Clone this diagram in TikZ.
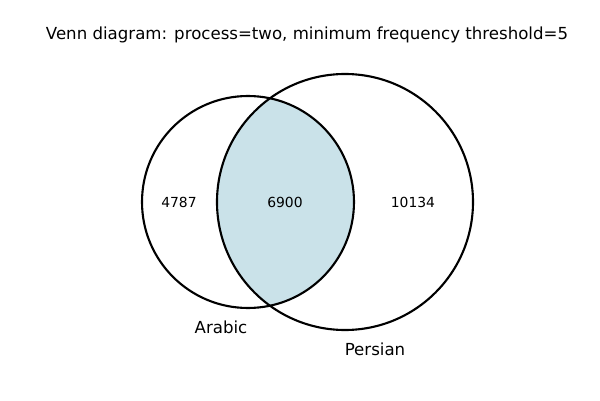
\documentclass[tikz,border=0pt]{standalone}
\usepackage{fontspec}
\setmainfont{DejaVu Sans}
\definecolor{overlapblue}{RGB}{202,226,233}
\newcommand{\arabiccircle}{(248,198) circle (106)}
\newcommand{\persiancircle}{(345,198) circle (128)}

\begin{document}
\begin{tikzpicture}[x=0.02cm, y=0.02cm,
    count/.style={font=\fontsize{7.9}{9}\selectfont},
    setname/.style={font=\fontsize{9.45}{11}\selectfont}]
    \useasboundingbox (0,0) rectangle (600,400);
    \begin{scope}
        \clip \arabiccircle;
        \fill[overlapblue] \persiancircle;
    \end{scope}
    \draw[line width=1.2pt] \arabiccircle;
    \draw[line width=1.2pt] \persiancircle;
    \node[setname] (title) at (307,365) {Venn diagram: process=two, minimum frequency threshold=5};
    \node[count] (onlyarabic) at (179,198) {4787};
    \node[count] (both) at (285,198) {6900};
    \node[count] (onlypersian) at (413,198) {10134};
    \node[setname] (arabic) at (221,73) {Arabic};
    \node[setname] (persian) at (375,51) {Persian};
\end{tikzpicture}
\end{document}
